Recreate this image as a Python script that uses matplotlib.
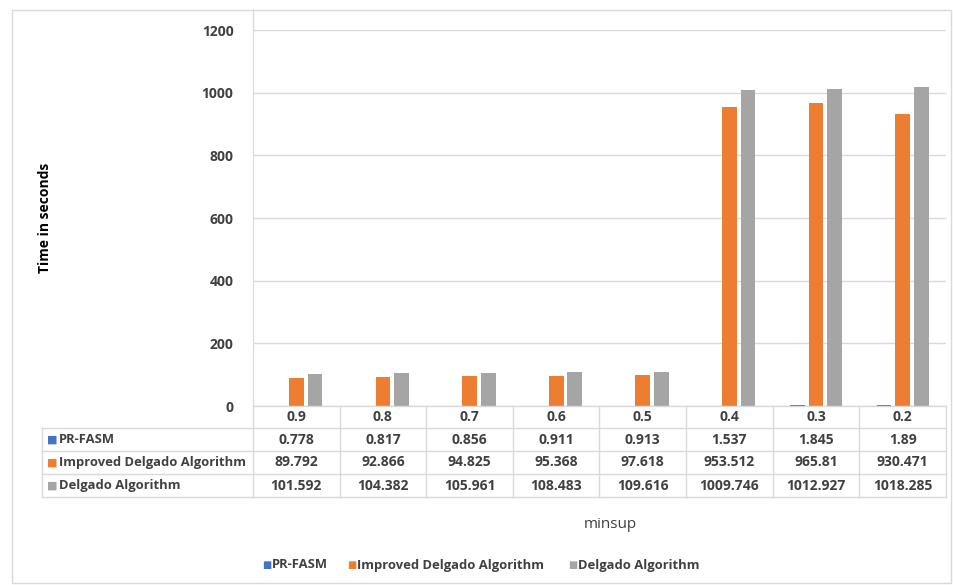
import matplotlib
matplotlib.use("Agg")
import matplotlib.pyplot as plt
from matplotlib.transforms import blended_transform_factory
from matplotlib.lines import Line2D
from matplotlib.patches import Rectangle

# Data
minsup = ["0.9", "0.8", "0.7", "0.6", "0.5", "0.4", "0.3", "0.2"]
series_names = ["PR-FASM", "Improved Delgado Algorithm", "Delgado Algorithm"]
pr_fasm = [0.778, 0.817, 0.856, 0.911, 0.913, 1.537, 1.845, 1.89]
improved_delgado = [89.792, 92.866, 94.825, 95.368, 97.618, 953.512, 965.81, 930.471]
delgado = [101.592, 104.382, 105.961, 108.483, 109.616, 1009.746, 1012.927, 1018.285]
y_ticks = [0, 200, 400, 600, 800, 1000, 1200]

colors = ["#4472C4", "#ED7D31", "#A5A5A5"]
text_color = "#404040"
line_color = "#d9d9d9"
FONT = "Open Sans"

W, H = 954, 585
fig = plt.figure(figsize=(W / 100, H / 100), dpi=100)
plt.rcParams["font.family"] = [FONT, "DejaVu Sans"]


def fx(px):
    return px / W


def fy(py):
    return 1 - py / H


# plot area in pixel coordinates
left_px, right_px, top_px, bottom_px = 253, 946, 30, 406
ax = fig.add_axes([fx(left_px), fy(bottom_px), fx(right_px) - fx(left_px), fy(top_px) - fy(bottom_px)])

n = len(minsup)
xs = list(range(n))
bar_w = 0.17
step = 0.215
all_series = [pr_fasm, improved_delgado, delgado]
for i, (vals, col) in enumerate(zip(all_series, colors)):
    offs = (i - 1) * step
    ax.bar([x + offs for x in xs], vals, width=bar_w, color=col, zorder=3)

ax.set_xlim(-0.5, n - 0.5)
ax.set_ylim(0, 1200)
ax.set_yticks(y_ticks)
ax.set_yticklabels([str(v) for v in y_ticks])
ax.tick_params(axis="y", length=0, pad=14, labelsize=10, labelcolor=text_color)
for lbl in ax.get_yticklabels():
    lbl.set_fontweight("bold")
ax.set_xticks([])
ax.grid(axis="y", color=line_color, linewidth=1, zorder=0)
for s in ["top", "right", "bottom"]:
    ax.spines[s].set_visible(False)
ax.spines["left"].set_color(line_color)

# outer chart frame
fig.patches.append(Rectangle((fx(12), fy(583)), fx(951) - fx(12), fy(10) - fy(583),
                             transform=fig.transFigure, fill=False,
                             edgecolor=line_color, linewidth=1))
fig.add_artist(Line2D([fx(left_px), fx(left_px)], [fy(10), fy(top_px)],
                      transform=fig.transFigure, color=line_color, linewidth=1))

# data table underneath the plot area
tr = blended_transform_factory(ax.transData, fig.transFigure)
row_edges = [406, 428, 451, 474, 497]
label_left = 42
bounds = [x - 0.5 for x in range(n + 1)]

# horizontal table lines
for k, yp in enumerate(row_edges):
    x0 = fx(label_left) if k >= 1 else fx(left_px)
    fig.add_artist(Line2D([x0, fx(right_px)], [fy(yp), fy(yp)],
                          transform=fig.transFigure, color=line_color, linewidth=1))
# vertical table lines
for b in bounds:
    fig.add_artist(Line2D([b, b], [fy(row_edges[0]), fy(row_edges[-1])],
                          transform=tr, color=line_color, linewidth=1))
fig.add_artist(Line2D([fx(label_left), fx(label_left)], [fy(row_edges[1]), fy(row_edges[-1])],
                      transform=fig.transFigure, color=line_color, linewidth=1))

# category row
for x, c in zip(xs, minsup):
    fig.text(x, fy((row_edges[0] + row_edges[1]) / 2), c, transform=tr, ha="center", va="center",
             fontsize=10, fontweight="bold", color=text_color)

name_size = 9.4
for r, (name, vals, col) in enumerate(zip(series_names, all_series, colors)):
    yc = fy((row_edges[r + 1] + row_edges[r + 2]) / 2)
    fig.text(fx(47), yc, "\u25A0", color=col, fontsize=8, ha="left", va="center",
             family=["DejaVu Sans"])
    fig.text(fx(59), yc, name, ha="left", va="center", fontsize=name_size,
             fontweight="bold", color=text_color)
    for x, v in zip(xs, vals):
        fig.text(x, yc, str(v), transform=tr, ha="center", va="center",
                 fontsize=10, fontweight="bold", color=text_color)

# axis titles
fig.text(fx(45), fy(218), "Time in seconds", rotation=90, ha="center", va="center",
         fontsize=10, fontweight="bold", color="#000000")
fig.text(fx(610), fy(524), "minsup", ha="center", va="center", fontsize=11, color=text_color)

# legend
legend_items = [(262, "PR-FASM"), (347, "Improved Delgado Algorithm"), (568, "Delgado Algorithm")]
for (px, name), col in zip(legend_items, colors):
    fig.text(fx(px), fy(565), "\u25A0", color=col, fontsize=7, ha="left", va="center",
             family=["DejaVu Sans"])
    fig.text(fx(px + 10), fy(565), name, ha="left", va="center", fontsize=name_size,
             fontweight="bold", color=text_color)

fig.savefig("out.png", dpi=100, facecolor="white")
